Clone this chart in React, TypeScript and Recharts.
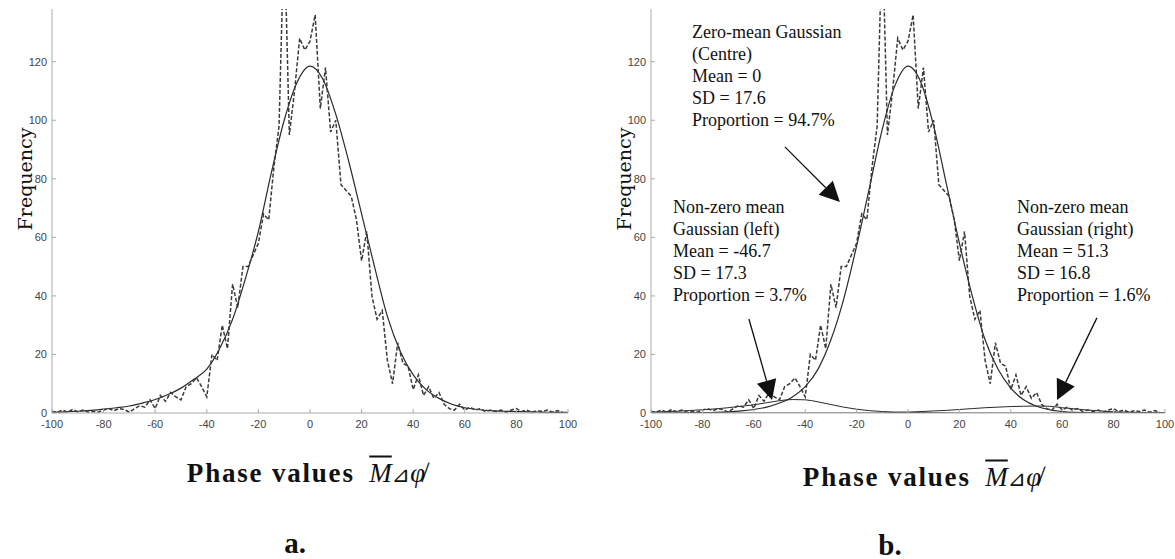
import React from 'react'
import { LineChart, Line, XAxis, YAxis, ReferenceLine, ReferenceDot } from 'recharts'

// histogram of phase values, bin centres every 2 units
const PHASE_BINS = [
  -100, -98, -96, -94, -92, -90, -88, -86, -84, -82,
  -80, -78, -76, -74, -72, -70, -68, -66, -64, -62,
  -60, -58, -56, -54, -52, -50, -48, -46, -44, -42,
  -40, -38, -36, -34, -32, -30, -28, -26, -24, -22,
  -20, -18, -16, -14, -12, -10, -8, -6, -4, -2,
  0, 2, 4, 6, 8, 10, 12, 14, 16, 18,
  20, 22, 24, 26, 28, 30, 32, 34, 36, 38,
  40, 42, 44, 46, 48, 50, 52, 54, 56, 58,
  60, 62, 64, 66, 68, 70, 72, 74, 76, 78,
  80, 82, 84, 86, 88, 90, 92, 94, 96, 98,
  100,
]
const HIST_FREQ = [
  0.5, 0.3, 1, 0.3, 1.2, 0.4, 1, 0.3, 0.5, 0.3,
  1, 1.5, 0.8, 1.5, 1.2, 0.3, 1.5, 2.5, 2, 4.5,
  1.5, 6, 4, 7, 5.5, 4.5, 9, 10, 12, 9,
  5.5, 20, 18, 30, 22, 44, 36, 50, 50, 54,
  58, 68, 66, 84, 98, 165, 95, 110, 128, 124,
  127, 136, 104, 118, 96, 100, 78, 76, 74, 66,
  52, 62, 40, 32, 35, 18, 10, 24, 17, 16,
  8, 13, 6, 9, 5, 7, 3, 1.5, 1, 3,
  1, 2, 1, 1.5, 0.5, 1, 0.5, 1, 0.3, 1,
  1.5, 0.5, 1, 0.3, 0.8, 0.5, 1, 0.3, 0.8, 0.2,
  0,
]

// fitted curves, read every 5 units
const FIT_X = [
  -100, -95, -90, -85, -80, -75, -70, -65, -60, -55,
  -50, -45, -40, -35, -30, -25, -20, -15, -10, -5,
  0, 5, 10, 15, 20, 25, 30, 35, 40, 45,
  50, 55, 60, 65, 70, 75, 80, 85, 90, 95,
  100,
]
const FIT_A = [
  0.3, 0.4, 0.6, 0.9, 1.3, 1.8, 2.4, 3.4, 4.6, 6.3,
  8.5, 11.5, 15, 22, 32, 46, 62, 82, 100, 113,
  118.5, 114, 102, 86, 68, 50, 33, 21, 13, 8,
  5, 3, 1.8, 1.2, 0.8, 0.6, 0.5, 0.4, 0.3, 0.2,
  0.2,
]
const FIT_B_CENTRE = [
  0, 0, 0, 0.1, 0.1, 0.2, 0.4, 0.7, 1.2, 2,
  3.4, 5.5, 9, 15, 25, 39, 57, 77, 97, 112,
  118.5, 113, 98, 78, 58, 40, 25, 15, 8.5, 4.5,
  2.3, 1.1, 0.5, 0.2, 0.1, 0, 0, 0, 0, 0,
  0,
]
const FIT_B_LEFT = [
  0.3, 0.45, 0.6, 0.85, 1.1, 1.4, 1.8, 2.3, 2.8, 3.5,
  4.2, 4.6, 4.5, 3.8, 2.9, 2, 1.3, 0.8, 0.5, 0.3,
  0.2, 0.15, 0.1, 0.05, 0, 0, 0, 0, 0, 0,
  0, 0, 0, 0, 0, 0, 0, 0, 0, 0,
  0,
]
const FIT_B_RIGHT = [
  0, 0, 0, 0, 0, 0, 0, 0, 0, 0,
  0, 0, 0, 0, 0, 0, 0, 0, 0, 0.2,
  0.3, 0.5, 0.7, 0.9, 1.2, 1.5, 1.8, 2, 2.2, 2.3,
  2.4, 2.3, 1.8, 1.4, 1, 0.7, 0.4, 0.3, 0.2, 0.1,
  0.1,
]

const X_TICKS = [-100, -80, -60, -40, -20, 0, 20, 40, 60, 80, 100]
const Y_TICKS = [0, 20, 40, 60, 80, 100, 120]
const INNER_X_TICKS = [-80, -60, -40, -20, 0, 20, 40, 60, 80]
const INNER_Y_TICKS = [20, 40, 60, 80, 100, 120]

const NOTES = [
  { x: -84, y: 128, lines: ['Zero-mean Gaussian', '(Centre)', 'Mean = 0', 'SD = 17.6', 'Proportion = 94.7%'] },
  { x: -91.4, y: 68.4, lines: ['Non-zero mean', 'Gaussian (left)', 'Mean = -46.7', 'SD = 17.3', 'Proportion = 3.7%'] },
  { x: 42.4, y: 68.4, lines: ['Non-zero mean', 'Gaussian (right)', 'Mean = 51.3', 'SD = 16.8', 'Proportion = 1.6%'] },
]
const ARROWS = [
  { from: { x: -47.9, y: 90.9 }, to: { x: -26.5, y: 72.1 } },
  { from: { x: -61.9, y: 32.1 }, to: { x: -52.9, y: 4.4 } },
  { from: { x: 73.5, y: 32.5 }, to: { x: 58, y: 4.4 } },
]

const toPoints = (xs: number[], ys: number[]) => xs.map((x, i) => ({ x, y: ys[i] }))
const HIST = toPoints(PHASE_BINS, HIST_FREQ)

const AXIS = '#ababab'
const TICK_TXT = '#444444'
const SANS = '"Liberation Sans", Arial, sans-serif'
const SERIF = '"Liberation Serif", "Times New Roman", serif'

function BottomTick({ x, y, payload }: any) {
  return (
    <g>
      <line x1={x} y1={y} x2={x} y2={y - 4} stroke={AXIS} />
      <text x={x} y={y + 15} textAnchor="middle" fontSize={11} fill={TICK_TXT} fontFamily={SANS}>{payload.value}</text>
    </g>
  )
}
function TopTick({ x, y }: any) {
  return <line x1={x} y1={y} x2={x} y2={y + 4} stroke={AXIS} />
}
function LeftTick({ x, y, payload }: any) {
  return (
    <g>
      <line x1={x} y1={y} x2={x + 4} y2={y} stroke={AXIS} />
      <text x={x - 5} y={y + 4} textAnchor="end" fontSize={11} fill={TICK_TXT} fontFamily={SANS}>{payload.value}</text>
    </g>
  )
}
function RightTick({ x, y }: any) {
  return <line x1={x} y1={y} x2={x - 4} y2={y} stroke={AXIS} />
}

function FreqLabel({ viewBox }: any) {
  const cx = viewBox.x + 25
  const cy = viewBox.y + viewBox.height / 2 - 32
  return (
    <text x={cx} y={cy} transform={`rotate(-90 ${cx} ${cy})`} textAnchor="middle" dominantBaseline="central"
      fontSize={19} fill="#111" fontFamily='"DejaVu Serif", serif'>Frequency</text>
  )
}

function Arrow({ x1, y1, x2, y2 }: any) {
  const dx = x2 - x1
  const dy = y2 - y1
  const len = Math.hypot(dx, dy) || 1
  const ux = dx / len
  const uy = dy / len
  const bx = x2 - ux * 20
  const by = y2 - uy * 20
  const pts = `${x2},${y2} ${bx - uy * 10},${by + ux * 10} ${bx + uy * 10},${by - ux * 10}`
  return (
    <g>
      <line x1={x1} y1={y1} x2={bx} y2={by} stroke="#111" strokeWidth={1.3} />
      <polygon points={pts} fill="#111" />
    </g>
  )
}

function NoteText({ viewBox, lines }: any) {
  return (
    <text x={viewBox.x} y={viewBox.y} fontSize={18} fill="#111" fontFamily={SERIF}>
      {lines.map((l: string, i: number) => (
        <tspan key={i} x={viewBox.x} dy={i === 0 ? 0 : 22}>{l}</tspan>
      ))}
    </text>
  )
}

function Panel({ left, width, fits, annotated }: { left: number; width: number; fits: { data: { x: number; y: number }[]; w: number }[]; annotated?: boolean }) {
  return (
    <div style={{ position: 'absolute', left, top: 0 }}>
      <LineChart width={width} height={440} margin={{ top: 9, right: 22, left: 0, bottom: 0 }}>
        <XAxis type="number" dataKey="x" domain={[-100, 100]} ticks={X_TICKS} interval={0} allowDataOverflow
          height={27} tickSize={0} tickMargin={0} tickLine={false} axisLine={{ stroke: AXIS }} tick={BottomTick} />
        <XAxis xAxisId="top" orientation="top" type="number" dataKey="x" domain={[-100, 100]} ticks={INNER_X_TICKS} interval={0}
          height={0} tickSize={0} tickMargin={0} tickLine={false} axisLine={{ stroke: AXIS }} tick={TopTick} />
        <YAxis type="number" domain={[0, 138]} ticks={Y_TICKS} interval={0} allowDataOverflow
          width={52} tickSize={0} tickMargin={0} tickLine={false} axisLine={{ stroke: AXIS }} tick={LeftTick}
          label={{ content: (p: any) => <FreqLabel viewBox={p.viewBox} /> }} />
        <YAxis yAxisId="right" orientation="right" type="number" domain={[0, 138]} ticks={INNER_Y_TICKS} interval={0}
          width={0} tickSize={0} tickMargin={0} tickLine={false} axisLine={{ stroke: AXIS }} tick={RightTick} />

        {fits.map((f, i) => (
          <Line key={i} data={f.data} dataKey="y" type="monotone" stroke="#2a2a2a" strokeWidth={f.w}
            dot={false} activeDot={false} isAnimationActive={false} />
        ))}
        <Line data={HIST} dataKey="y" type="linear" stroke="#3a3a3a" strokeWidth={1.5} strokeDasharray="4 2"
          dot={false} activeDot={false} isAnimationActive={false} />

        {annotated && ARROWS.map((a, i) => (
          <ReferenceLine key={`a${i}`} segment={[a.from, a.to]} ifOverflow="visible" shape={(p: any) => <Arrow {...p} />} />
        ))}
        {annotated && NOTES.map((n, i) => (
          <ReferenceDot key={`n${i}`} x={n.x} y={n.y} r={0} ifOverflow="visible" fill="none" stroke="none"
            label={{ content: (p: any) => <NoteText viewBox={p.viewBox} lines={n.lines} /> }} />
        ))}
      </LineChart>
    </div>
  )
}

function XTitle({ cx, cy }: { cx: number; cy: number }) {
  return (
    <div style={{ position: 'absolute', left: cx, top: cy, transform: 'translate(-50%, -50%)', whiteSpace: 'nowrap',
      fontFamily: SERIF, fontSize: 27, color: '#111' }}>
      <span style={{ fontWeight: 'bold', letterSpacing: 1.8 }}>Phase values </span>
      <span style={{ fontStyle: 'italic', textDecoration: 'overline', marginLeft: 6 }}>M</span>
      <span style={{ fontFamily: '"DejaVu Sans", sans-serif', fontSize: 22 }}>⊿</span>
      <span style={{ fontStyle: 'italic' }}>φ̸</span>
    </div>
  )
}

function Letter({ cx, cy, text }: { cx: number; cy: number; text: string }) {
  return (
    <div style={{ position: 'absolute', left: cx, top: cy, transform: 'translate(-50%, -50%)',
      fontFamily: SERIF, fontSize: 29, fontWeight: 'bold', color: '#111' }}>{text}</div>
  )
}

export default function App() {
  const fitsA = [{ data: toPoints(FIT_X, FIT_A), w: 1.2 }]
  const fitsB = [
    { data: toPoints(FIT_X, FIT_B_CENTRE), w: 1.2 },
    { data: toPoints(FIT_X, FIT_B_LEFT), w: 1 },
    { data: toPoints(FIT_X, FIT_B_RIGHT), w: 1 },
  ]
  return (
    <div style={{ position: 'absolute', left: 0, top: 0, width: 1175, height: 559, background: '#fff' }}>
      <Panel left={0} width={590} fits={fitsA} />
      <Panel left={599} width={588} fits={fitsB} annotated />
      <XTitle cx={306} cy={473} />
      <XTitle cx={922} cy={477} />
      <Letter cx={295} cy={543} text="a." />
      <Letter cx={890} cy={545} text="b." />
    </div>
  )
}
